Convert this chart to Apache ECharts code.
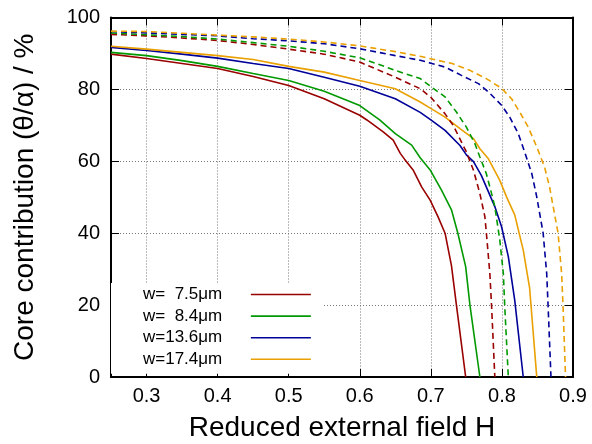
<!DOCTYPE html>
<html>
<head>
<meta charset="utf-8">
<script src="https://cdn.jsdelivr.net/npm/echarts@6/dist/echarts.min.js"></script>
<style>
html,body{margin:0;padding:0;background:#fff;}
#c{width:592px;height:444px;}
</style>
</head>
<body>
<div id="c"></div>
<script>
// Legend labels (series names)
const names = ['w=  7.5\u03bcm', 'w=  8.4\u03bcm', 'w=13.6\u03bcm', 'w=17.4\u03bcm'];
const colors = ['#990000', '#009900', '#000099', '#e9a000'];

// Solid curves: [H, core contribution %]
const solid75 = [[0.25,89.8],[0.3,88.6],[0.35,87.2],[0.4,85.8],[0.45,83.6],[0.5,81.1],[0.55,77.4],[0.6,72.8],[0.61,71.5],[0.633,68.2],[0.647,65.9],[0.657,62.2],[0.663,60.6],[0.675,57.6],[0.687,52.9],[0.699,49.2],[0.71,44.6],[0.72,40.0],[0.729,31.0],[0.736,20.0],[0.749,0]];
const solid84 = [[0.25,90.3],[0.3,89.4],[0.35,88.0],[0.4,86.4],[0.45,84.4],[0.5,82.5],[0.55,79.5],[0.6,75.5],[0.628,71.5],[0.65,67.7],[0.673,64.5],[0.685,61.0],[0.699,57.6],[0.715,52.0],[0.729,46.5],[0.738,40.0],[0.749,30.7],[0.755,20.0],[0.769,0]];
const solid136 = [[0.25,91.7],[0.3,90.8],[0.35,89.8],[0.4,88.7],[0.45,87.2],[0.5,85.8],[0.55,83.4],[0.6,80.9],[0.65,77.4],[0.685,73.6],[0.7,71.5],[0.72,68.6],[0.741,64.4],[0.75,61.8],[0.76,59.9],[0.771,56.1],[0.778,52.9],[0.79,47.4],[0.7995,41.8],[0.809,33.5],[0.818,21.4],[0.83,0]];
const solid174 = [[0.25,92.0],[0.3,91.2],[0.35,90.3],[0.4,89.4],[0.45,88.3],[0.5,86.4],[0.55,84.8],[0.6,82.5],[0.65,80.2],[0.685,76.5],[0.701,74.6],[0.72,72.3],[0.741,69.1],[0.76,66.3],[0.769,63.5],[0.781,60.7],[0.797,54.7],[0.8065,50.1],[0.818,45.1],[0.83,35.3],[0.839,24.7],[0.849,0]];

// Dashed curves
const dash75 = [[0.25,95.3],[0.3,94.9],[0.35,94.3],[0.4,93.6],[0.45,92.5],[0.5,91.2],[0.55,89.8],[0.6,87.6],[0.65,83.4],[0.685,80.2],[0.7,77.8],[0.72,73.2],[0.7315,70.0],[0.743,65.4],[0.75,62.6],[0.76,57.5],[0.769,51.0],[0.776,44.6],[0.779,38.1],[0.783,28.8],[0.7855,19.6],[0.79,0]];
const dash84 = [[0.25,95.7],[0.3,95.2],[0.35,94.7],[0.4,94.0],[0.45,93.0],[0.5,92.0],[0.55,90.6],[0.6,88.8],[0.65,85.3],[0.685,83.0],[0.7,80.8],[0.72,77.9],[0.736,73.7],[0.75,69.5],[0.762,64.9],[0.769,61.2],[0.778,56.6],[0.7855,51.0],[0.79,47.4],[0.797,38.1],[0.802,28.8],[0.804,19.6],[0.809,0]];
const dash136 = [[0.25,96.1],[0.3,95.7],[0.35,95.3],[0.4,94.9],[0.45,94.1],[0.5,93.5],[0.55,92.7],[0.6,91.3],[0.65,89.4],[0.685,88.1],[0.7,87.3],[0.72,86.2],[0.743,83.9],[0.767,81.6],[0.781,79.3],[0.7995,75.6],[0.811,72.3],[0.823,67.7],[0.832,62.6],[0.842,56.6],[0.849,50.1],[0.858,40.0],[0.863,28.8],[0.865,19.6],[0.869,0]];
const dash174 = [[0.25,96.2],[0.3,96.1],[0.35,95.6],[0.4,95.1],[0.45,94.6],[0.5,94.0],[0.55,93.2],[0.6,92.1],[0.65,90.5],[0.685,89.2],[0.7,88.5],[0.73,87.2],[0.755,85.3],[0.778,83.0],[0.7995,80.3],[0.8136,77.4],[0.825,73.7],[0.837,69.5],[0.849,64.0],[0.86,58.4],[0.867,52.9],[0.879,40.0],[0.884,28.8],[0.886,19.6],[0.8895,0]];

const xTicks = [0.3, 0.4, 0.5, 0.6, 0.7, 0.8, 0.9];

const FONT = '"Liberation Sans", Arial, Helvetica, sans-serif';
const solids = [solid75, solid84, solid136, solid174];
const dashes = [dash75, dash84, dash136, dash174];

const series = [];
solids.forEach((d, i) => series.push({
  name: names[i], type: 'line', data: d, symbol: 'none', silent: true,
  lineStyle: {color: colors[i], width: 1.6}, itemStyle: {color: colors[i]}, z: 3
}));
dashes.forEach((d, i) => series.push({
  name: 'dash' + i, type: 'line', data: d, symbol: 'none', silent: true,
  lineStyle: {color: colors[i], width: 1.6, type: [6, 4]}, itemStyle: {color: colors[i]}, z: 3
}));

const tickStyle = {show: true, inside: true, length: 8, lineStyle: {color: '#000', width: 1}};
const lineStyle = {show: true, onZero: false, lineStyle: {color: '#000', width: 2}};

const chart = echarts.init(document.getElementById('c'), null, {renderer: 'canvas'});
chart.setOption({
  animation: false,
  backgroundColor: '#fff',
  grid: {left: 111, right: 19, top: 17.5, bottom: 67, containLabel: false, outerBoundsMode: 'none'},
  legend: {
    data: names, orient: 'vertical', left: 111, top: 283, align: 'right',
    backgroundColor: '#fff', padding: [3, 12, 6, 32],
    icon: 'path://M0,0 L60,0 L60,1.6 L0,1.6 Z',
    itemWidth: 60, itemHeight: 17, itemGap: 4.6,
    formatter: n => n + '     ',
    textStyle: {fontFamily: FONT, fontSize: 17, color: '#000', lineHeight: 17},
    selectedMode: false, z: 10
  },
  xAxis: [{
    type: 'value', min: 0.25, max: 0.9, position: 'bottom',
    axisLine: lineStyle,
    axisTick: Object.assign({customValues: xTicks}, tickStyle),
    axisLabel: {customValues: xTicks, fontFamily: FONT, fontSize: 20, color: '#000', margin: 9,
      formatter: v => v.toFixed(1)},
    splitLine: {show: true, lineStyle: {color: '#777', width: 1, type: [1, 2]}},
    name: 'Reduced external field H', nameLocation: 'middle', nameGap: 37,
    nameTextStyle: {fontFamily: FONT, fontSize: 28, color: '#000'}
  }, {
    type: 'value', min: 0.25, max: 0.9, position: 'top',
    axisLine: lineStyle,
    axisTick: Object.assign({customValues: xTicks}, tickStyle),
    axisLabel: {show: false},
    splitLine: {show: false}
  }],
  yAxis: [{
    type: 'value', min: 0, max: 100, interval: 20, position: 'left',
    axisLine: lineStyle, axisTick: tickStyle,
    axisLabel: {fontFamily: FONT, fontSize: 20, color: '#000', margin: 11},
    splitLine: {show: true, lineStyle: {color: '#777', width: 1, type: [1, 2]}},
    name: 'Core contribution (\u03b8/\u03b1) / %', nameLocation: 'middle', nameGap: 72,
    nameTextStyle: {fontFamily: FONT, fontSize: 28, color: '#000'}
  }, {
    type: 'value', min: 0, max: 100, interval: 20, position: 'right',
    axisLine: lineStyle, axisTick: tickStyle,
    axisLabel: {show: false}, splitLine: {show: false}
  }],
  series: series
});
</script>
</body>
</html>
